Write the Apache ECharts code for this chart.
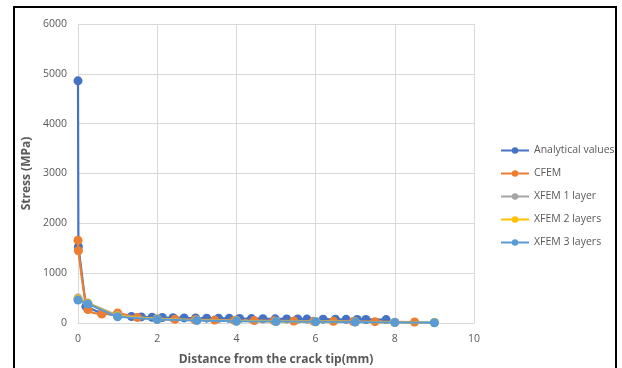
<!DOCTYPE html>
<html>
<head>
<meta charset="utf-8">
<script src="https://cdn.jsdelivr.net/npm/echarts@6/dist/echarts.min.js"></script>
<style>
  html, body { margin: 0; padding: 0; background: #fff; }
  #chart { width: 622px; height: 368px; }
</style>
</head>
<body>
<div id="chart"></div>
<script>
// Distance from the crack tip (mm) and stress (MPa) for each method
const analyticalX = [0, 0.01, 0.2, 0.6, 1.0, 1.35, 1.6, 1.87, 2.13, 2.4, 2.68, 2.97, 3.25, 3.55, 3.82, 4.08, 4.38, 4.67, 4.98, 5.27, 5.55, 5.78, 6.19, 6.5, 6.77, 7.05, 7.27, 7.78];
const analyticalY = [4860, 1530, 330, 190, 150, 130, 122, 115, 110, 105, 102, 100, 97, 95, 93, 90, 88, 86, 84, 82, 80, 79, 77, 75, 74, 72, 71, 68];

const cfemX = [0, 0.01, 0.25, 0.6, 1.0, 1.5, 2.45, 2.95, 3.45, 3.95, 4.45, 4.95, 5.45, 5.95, 6.45, 6.95, 7.5, 8.5];
const cfemY = [1660, 1450, 270, 180, 200, 110, 75, 65, 58, 52, 48, 44, 40, 37, 34, 30, 27, 20];

const xfem1X = [0, 0.25, 1, 2, 3, 4, 5, 6, 7, 8, 9];
const xfem1Y = [500, 400, 150, 85, 60, 45, 35, 30, 25, 15, 10];

const xfem2X = [0, 0.25, 1, 2, 3, 4, 5, 6, 7, 8, 9];
const xfem2Y = [480, 390, 140, 78, 55, 40, 32, 27, 22, 12, 8];

const xfem3X = [0, 0.25, 1, 2, 3, 4, 5, 6, 7, 8, 9];
const xfem3Y = [460, 380, 125, 70, 50, 35, 30, 25, 20, 10, 6];

const seriesNames = ['Analytical values', 'CFEM', 'XFEM 1 layer', 'XFEM 2 layers', 'XFEM 3 layers'];
const seriesColors = ['#4472C4', '#ED7D31', '#A5A5A5', '#FFC000', '#5B9BD5'];
const seriesX = [analyticalX, cfemX, xfem1X, xfem2X, xfem3X];
const seriesY = [analyticalY, cfemY, xfem1Y, xfem2Y, xfem3Y];

const xTicks = [0, 2, 4, 6, 8, 10];
const yTicks = [0, 1000, 2000, 3000, 4000, 5000, 6000];

const FONT = '"Open Sans", "Noto Sans", sans-serif';
const TEXT = '#595959';

const chart = echarts.init(document.getElementById('chart'), null, { renderer: 'canvas' });

const series = seriesNames.map((name, i) => ({
  name,
  type: 'line',
  data: seriesX[i].map((x, j) => [x, seriesY[i][j]]),
  smooth: i === 1 ? 0.25 : false,
  symbol: 'circle',
  symbolSize: 9,
  showSymbol: true,
  itemStyle: { color: seriesColors[i] },
  lineStyle: { color: seriesColors[i], width: 2.2 },
  z: 2 + i
}));

chart.setOption({
  animation: false,
  backgroundColor: '#fff',
  textStyle: { fontFamily: FONT },
  graphic: [{
    type: 'rect',
    shape: { x: 14, y: 7, width: 602, height: 370 },
    style: { fill: 'none', stroke: '#000', lineWidth: 2 },
    z: 100
  }],
  grid: { left: 78, right: 148, top: 24, bottom: 45, outerBoundsMode: 'none', containLabel: false },
  legend: {
    orient: 'vertical',
    left: 495,
    top: 140,
    itemWidth: 28,
    itemHeight: 8,
    itemGap: 12,
    textStyle: { color: TEXT, fontSize: 10.5, fontFamily: FONT },
    data: seriesNames
  },
  xAxis: {
    type: 'value',
    min: xTicks[0],
    max: xTicks[xTicks.length - 1],
    interval: 2,
    name: 'Distance from the crack tip(mm)',
    nameLocation: 'middle',
    nameGap: 31,
    nameTextStyle: { color: TEXT, fontSize: 12, fontWeight: 'bold', fontFamily: FONT },
    axisLine: { show: true, lineStyle: { color: '#D9D9D9', width: 1 } },
    axisTick: { show: false },
    axisLabel: { color: TEXT, fontSize: 10.5, margin: 11 },
    splitLine: { show: true, lineStyle: { color: '#D9D9D9', width: 1 } }
  },
  yAxis: {
    type: 'value',
    min: yTicks[0],
    max: yTicks[yTicks.length - 1],
    interval: 1000,
    name: 'Stress (MPa)',
    nameLocation: 'middle',
    nameGap: 40,
    nameRotate: 90,
    nameTextStyle: { color: TEXT, fontSize: 12, fontWeight: 'bold', fontFamily: FONT },
    axisLine: { show: false },
    axisTick: { show: false },
    axisLabel: { color: TEXT, fontSize: 10.5, margin: 11, formatter: v => String(v) },
    splitLine: { show: true, lineStyle: { color: '#D9D9D9', width: 1 } }
  },
  series
});
</script>
</body>
</html>
